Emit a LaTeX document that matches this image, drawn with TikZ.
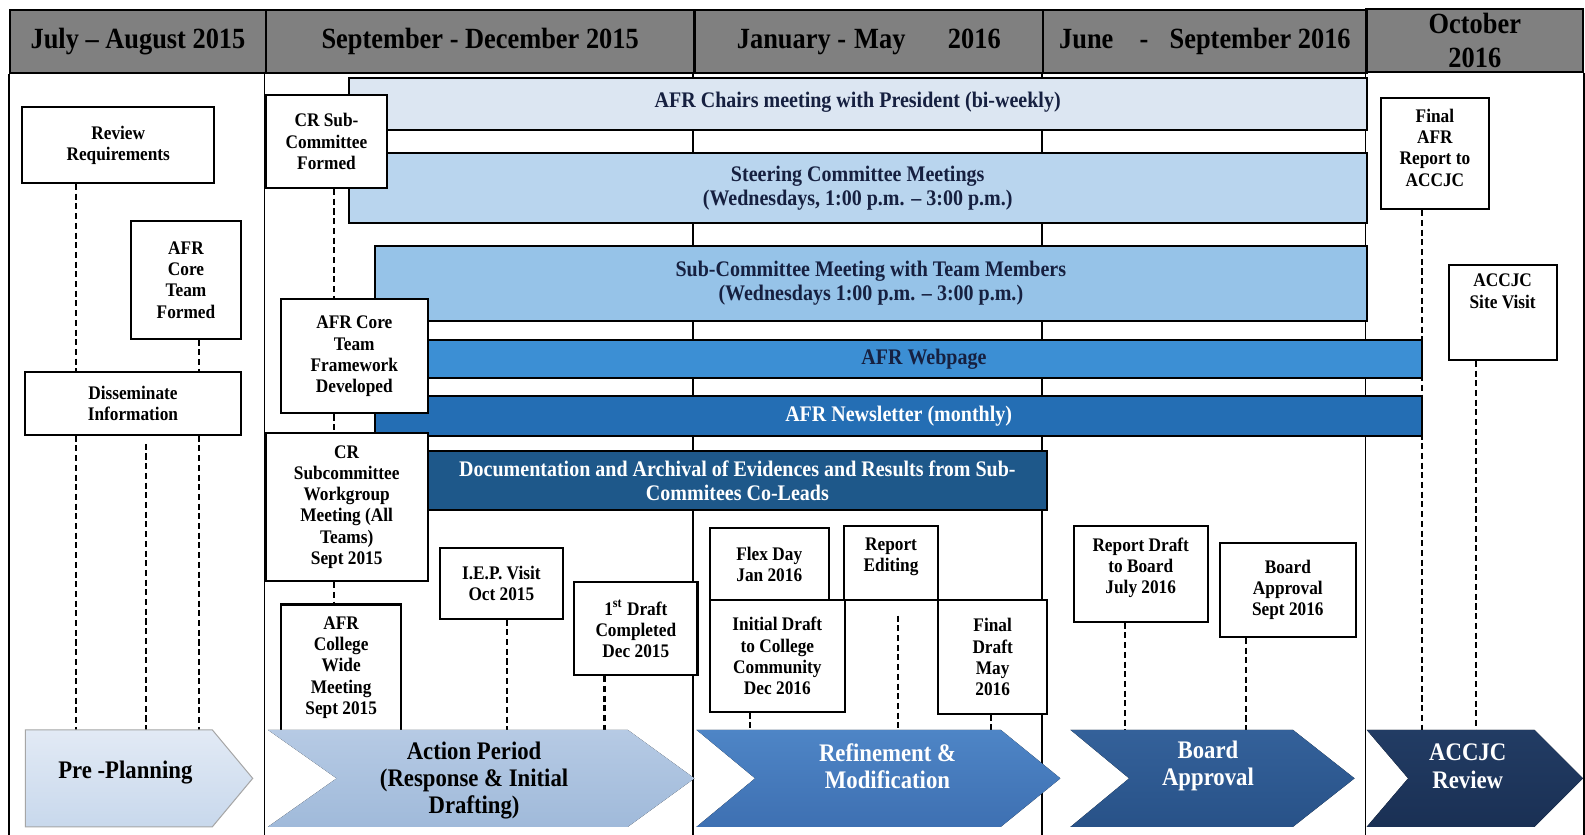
\documentclass[tikz,border=0pt]{standalone}
\usepackage{fontspec}
\setmainfont{Liberation Serif}[FakeStretch=0.9]

\definecolor{hdrgray}{RGB}{128,128,128}
\definecolor{navytext}{RGB}{22,32,64}
\definecolor{chaircol}{RGB}{220,230,242}
\definecolor{steercol}{RGB}{185,213,238}
\definecolor{subcol}{RGB}{150,195,232}
\definecolor{webcol}{RGB}{60,143,212}
\definecolor{newscol}{RGB}{36,110,180}
\definecolor{doccol}{RGB}{30,88,138}
\definecolor{preA}{RGB}{226,234,245}
\definecolor{preB}{RGB}{200,216,236}
\definecolor{actA}{RGB}{182,202,228}
\definecolor{actB}{RGB}{160,186,218}
\definecolor{refA}{RGB}{78,133,198}
\definecolor{refB}{RGB}{62,112,178}
\definecolor{brdA}{RGB}{52,97,154}
\definecolor{brdB}{RGB}{40,82,136}
\definecolor{revA}{RGB}{34,60,100}
\definecolor{revB}{RGB}{26,48,84}

\newcommand\headfont{\fontsize{14.5}{16.5}\selectfont\bfseries}
\newcommand\notefont{\fontsize{9.5}{10.5}\selectfont\bfseries}
\newcommand\stripfont{\fontsize{11}{12}\selectfont\bfseries}
\newcommand\phasefont{\fontsize{12.5}{13.5}\selectfont\bfseries}

\begin{document}
\begin{tikzpicture}[x=0.5pt,y=-0.5pt,
    hdr/.style={draw,line width=1.2pt,fill=hdrgray,font=\headfont,align=center,inner sep=0pt},
    note/.style={draw,line width=1pt,fill=white,font=\notefont,align=center,inner sep=1pt},
    strip/.style={draw,line width=1pt,font=\stripfont,align=center,inner sep=0pt},
    colline/.style={line width=0.8pt},
    dashline/.style={dash pattern=on 3pt off 1.8pt,line width=1pt},
    phase/.style={font=\phasefont,align=center}]
  \useasboundingbox[fill=white] (0,0) rectangle (1568,826);
  \coordinate (bot) at (0,826);
  \coordinate (row) at (0,722);

  % header
  \node[hdr,minimum width=126.5pt,minimum height=31pt] (jul) at (136.5,41) {July -- August 2015};
  \node[hdr,minimum width=212pt,minimum height=31pt] (sep) at (475,41) {September - December 2015};
  \node[hdr,minimum width=172.5pt,minimum height=31pt] (jan) at (859.5,41) {January -\hspace{4pt}May\hspace{21pt}2016};
  \node[hdr,minimum width=160pt,minimum height=31pt] (jun) at (1192,41) {June\hspace{13pt}-\hspace{10.5pt}September 2016};
  \node[hdr,minimum width=107pt,minimum height=31pt] (oct) at (1459,40) {October\\2016};

  \foreach \c in {jul,sep,jan,jun,oct}
    \draw[colline] (\c.south west) -- (\c.south west |- bot);
  \draw[colline] (oct.south east) -- (oct.south east |- bot);

  % running activities
  \node[strip,fill=chaircol,text=navytext,minimum width=503.5pt,minimum height=26pt,text depth=4pt] (chairs) at (848.5,103) {AFR Chairs meeting with President (bi-weekly)};
  \node[strip,fill=steercol,text=navytext,minimum width=503.5pt,minimum height=35pt] (steer) at (848.5,186) {Steering Committee Meetings\\(Wednesdays, 1:00 p.m. -- 3:00 p.m.)};
  \node[strip,fill=subcol,text=navytext,minimum width=490.5pt,minimum height=37.5pt] (subc) at (861.5,280.5) {Sub-Committee Meeting with Team Members\\(Wednesdays 1:00 p.m. -- 3:00 p.m.)};
  \node[strip,fill=webcol,text=navytext,minimum width=518pt,minimum height=19pt] (web) at (889,355) {\hspace{25pt}AFR Webpage};
  \node[strip,fill=newscol,text=white,minimum width=518pt,minimum height=19.5pt] (news) at (889,411.5) {AFR Newsletter (monthly)};
  \node[strip,fill=doccol,text=white,minimum width=306.5pt,minimum height=29.5pt] (docs) at (729.5,475.5) {Documentation and Archival of Evidences and Results from Sub-\\Commitees Co-Leads};

  % milestones
  \node[note,minimum width=95pt,minimum height=37.5pt] (rr) at (117,143.5) {Review\\Requirements};
  \node[note,minimum width=54pt,minimum height=58pt] (core1) at (184,277) {AFR\\Core\\Team\\Formed};
  \node[note,minimum width=106.5pt,minimum height=31pt] (dis) at (131.5,399) {Disseminate\\Information};
  \node[note,minimum width=60pt,minimum height=46pt] (crf) at (323,140) {CR Sub-\\Committee\\Formed};
  \node[note,minimum width=72.5pt,minimum height=56.5pt] (core2) at (350.5,352.5) {AFR Core\\Team\\Framework\\Developed};
  \node[note,minimum width=80pt,minimum height=73.5pt] (crw) at (343,501.5) {CR\\Subcommittee\\Workgroup\\Meeting (All\\Teams)\\Sept 2015};
  \node[note,minimum width=59.5pt,minimum height=62.5pt] (cwm) at (337.5,660.5) {AFR\\College\\Wide\\Meeting\\Sept 2015};
  \node[note,minimum width=61pt,minimum height=35pt] (iep) at (496,577) {I.E.P. Visit\\Oct 2015};
  \node[note,minimum width=61pt,minimum height=46pt] (fdc) at (629,622) {1\textsuperscript{st} Draft\\Completed\\Dec 2015};
  \node[note,minimum width=59pt,minimum height=36pt] (flex) at (761,558) {Flex Day\\Jan 2016};
  \node[note,minimum width=46.5pt,minimum height=37pt,text depth=8pt] (edit) at (881.5,557) {Report\\Editing};
  \node[note,minimum width=67pt,minimum height=55pt] (idr) at (769,649) {Initial Draft\\to College\\Community\\Dec 2016};
  \node[note,minimum width=54pt,minimum height=56pt] (fin) at (982,650) {Final\\Draft\\May\\2016};
  \node[note,minimum width=66.5pt,minimum height=47.5pt,text depth=8pt] (rdb) at (1128.5,567.5) {Report Draft\\to Board\\July 2016};
  \node[note,minimum width=67pt,minimum height=46.5pt] (bap) at (1274,583.5) {Board\\Approval\\Sept 2016};
  \node[note,minimum width=53.5pt,minimum height=55pt,text depth=6pt] (far) at (1419.5,152) {Final\\AFR\\Report to\\ACCJC};
  \node[note,minimum width=53.5pt,minimum height=47pt,text depth=21pt] (asv) at (1486.5,309) {ACCJC\\Site Visit};

  % dashed links
  \draw[dashline] (rr.south -| 75,0) -- (dis.north -| 75,0);
  \draw[dashline] (core1.south -| 197,0) -- (dis.north -| 197,0);
  \draw[dashline] (dis.south -| 75,0) -- (row -| 75,0);
  \draw[dashline,shorten <=4pt] (dis.south -| 144,0) -- (row -| 144,0);
  \draw[dashline] (dis.south -| 197,0) -- (row -| 197,0);
  \draw[dashline] (crf.south -| 330,0) -- (core2.north -| 330,0);
  \draw[dashline] (core2.south -| 330,0) -- (crw.north -| 330,0);
  \draw[dashline] (crw.south -| 330,0) -- (cwm.north -| 330,0);
  \draw[dashline] (iep.south -| 502,0) -- (row -| 502,0);
  \draw[dashline] (fdc.south -| 598,0) -- (row -| 598,0);
  \draw[dashline] (idr.south -| 742,0) -- (row -| 742,0);
  \draw[dashline,shorten <=7pt] (edit.south -| 888,0) -- (row -| 888,0);
  \draw[dashline] (fin.south -| 980,0) -- (row -| 980,0);
  \draw[dashline] (rdb.south -| 1113,0) -- (row -| 1113,0);
  \draw[dashline] (bap.south -| 1233,0) -- (row -| 1233,0);
  \draw[dashline] (far.south -| 1407,0) -- (row -| 1407,0);
  \draw[dashline] (asv.south -| 1460,0) -- (row -| 1460,0);

  % phases
  \draw[draw=gray!70,line width=0.5pt,top color=preA,bottom color=preB]
    (25,722) -- (210,722) -- (250,770) -- (210,818) -- (25,818) -- cycle;
  \node[phase] (pre) at (124,764) {Pre -Planning};
  \fill[top color=actA,bottom color=actB]
    (265,722) -- (621,722) -- (687,770) -- (621,818) -- (265,818) -- (333,770) -- cycle;
  \node[phase] (act) at (469,772) {Action Period\\(Response \& Initial\\Drafting)};
  \fill[top color=refA,bottom color=refB]
    (689,722) -- (990,722) -- (1049,770) -- (990,818) -- (689,818) -- (747,770) -- cycle;
  \node[phase,text=white] (ref) at (878,758) {Refinement \&\\Modification};
  \fill[top color=brdA,bottom color=brdB]
    (1059,722) -- (1279,722) -- (1340,770) -- (1279,818) -- (1059,818) -- (1117,770) -- cycle;
  \node[phase,text=white] (brd) at (1195,758) {Board\\Approval};
  \fill[top color=revA,bottom color=revB]
    (1352,722) -- (1518,722) -- (1566,770) -- (1518,818) -- (1352,818) -- (1393,770) -- cycle;
  \node[phase,text=white] (rev) at (1452,758) {ACCJC\\Review};
\end{tikzpicture}
\end{document}
